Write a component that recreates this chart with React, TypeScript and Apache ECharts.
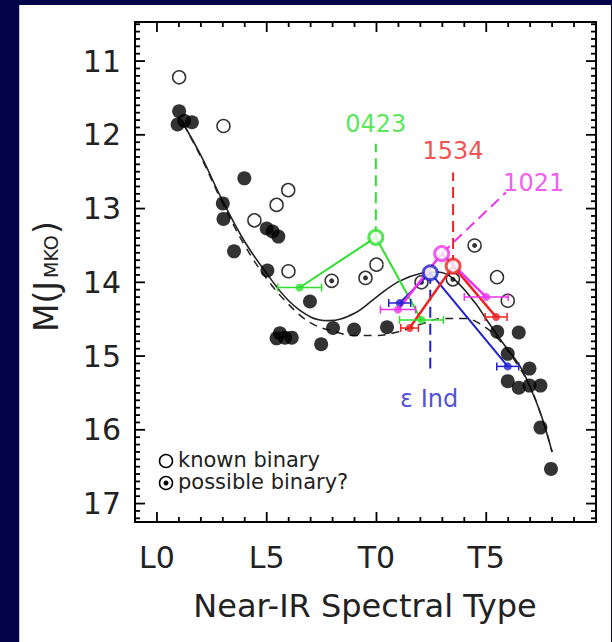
import React, { useEffect, useRef } from "react";
import * as echarts from "echarts";

// ---------- axis ticks ----------
const xMajorTicks = [0, 5, 10, 15];
const xTickLabels = ["L0", "L5", "T0", "T5"];
const xMinorTicks = [1, 2, 3, 4, 6, 7, 8, 9, 11, 12, 13, 14, 16, 17, 18, 19];
const yMajorTicks = [11, 12, 13, 14, 15, 16, 17];
const X_MIN = -1;
const X_MAX = 20;
const Y_MIN = 10.47;
const Y_MAX = 17.25;

// ---------- data (spectral type index: L0=0, T0=10) ----------
const singleDwarfs: number[][] = [
  [1.01, 11.68], [0.94, 11.86], [1.24, 11.81], [1.59, 11.83],
  [3.98, 12.59], [3.0, 12.93], [3.03, 13.14], [3.51, 13.58],
  [5.0, 13.27], [5.27, 13.31], [5.53, 13.38], [5.03, 13.84],
  [6.97, 14.26], [5.45, 14.76], [5.6, 14.69], [5.83, 14.75], [6.14, 14.75],
  [7.48, 14.84], [8.02, 14.62], [8.98, 14.64], [10.48, 14.61],
  [15.5, 14.67], [16.48, 14.68], [15.98, 14.97], [15.98, 15.34],
  [16.48, 15.43], [16.97, 15.17], [16.97, 15.4], [17.47, 15.4],
  [17.47, 15.97], [17.95, 16.53],
];
const knownBinaries: number[][] = [
  [1.01, 11.22], [3.03, 11.88], [5.98, 12.75], [5.45, 12.95], [4.44, 13.16],
  [5.99, 13.85], [10.0, 13.76], [15.49, 13.93], [15.98, 14.25],
];
const possibleBinaries: number[][] = [
  [7.96, 13.98], [9.5, 13.94], [12.05, 14.0], [13.48, 13.96], [14.47, 13.5],
];
const fitSolid: number[][] = [
  [1.2, 11.85], [2.0, 12.28], [3.0, 12.9], [4.0, 13.45], [5.0, 13.88],
  [6.0, 14.25], [7.0, 14.47], [7.8, 14.52], [9.0, 14.42], [10.0, 14.2],
  [11.0, 13.99], [12.0, 13.88], [12.8, 13.86], [13.5, 13.95], [14.5, 14.28],
  [15.0, 14.5], [15.7, 14.8], [16.5, 15.12], [17.0, 15.42], [17.5, 15.8], [18.0, 16.3],
];
const fitDashed: number[][] = [
  [1.2, 11.85], [2.0, 12.3], [3.0, 12.93], [4.0, 13.5], [5.0, 13.95],
  [6.0, 14.3], [7.0, 14.55], [8.0, 14.66], [9.0, 14.72], [10.0, 14.72],
  [11.0, 14.67], [12.0, 14.57], [13.0, 14.49], [14.0, 14.49], [14.7, 14.56],
  [15.5, 14.75], [16.5, 15.15], [17.0, 15.42], [17.5, 15.8], [18.0, 16.3],
];

// binaries: combined point, components [x, y, xErr], pointer line, label
const sys0423Combined = [9.97, 13.39];
const sys0423Components = [[6.5, 14.07, 1.0], [12.05, 14.51, 1.0]];
const sys0423Pointer = [[9.97, 13.39], [9.97, 12.12]];
const sys0423Label = [9.97, 11.85];

const sys1534Combined = [13.49, 13.78];
const sys1534Components = [[11.51, 14.62, 0.4], [15.45, 14.47, 0.5]];
const sys1534Pointer = [[13.49, 13.78], [13.49, 12.51]];
const sys1534Label = [13.49, 12.22];

const sys1021Combined = [12.97, 13.61];
const sys1021Components = [[10.98, 14.37, 0.8], [15.0, 14.2, 1.0]];
const sys1021Pointer = [[12.97, 13.61], [15.9, 12.78]];
const sys1021Label = [17.16, 12.65];

const sysEpsCombined = [12.45, 13.87];
const sysEpsComponents = [[11.06, 14.28, 0.5], [15.98, 15.14, 0.5]];
const sysEpsPointer = [[12.45, 13.87], [12.45, 15.17]];
const sysEpsLabel = [12.4, 15.58];

const FONT = "DejaVu Sans";
const INK = "#222222";

function minorYTicks(): number[] {
  const out: number[] = [];
  for (let i = 105; i <= 172; i++) {
    if (i % 10 !== 0) out.push(i / 10);
  }
  return out;
}

// tick rows: [x, y, side(0 bottom, 1 top, 2 left, 3 right), length]
function tickRows(): number[][] {
  const rows: number[][] = [];
  xMajorTicks.forEach((v) => { rows.push([v, Y_MAX, 0, 10]); rows.push([v, Y_MIN, 1, 10]); });
  xMinorTicks.forEach((v) => { rows.push([v, Y_MAX, 0, 5]); rows.push([v, Y_MIN, 1, 5]); });
  yMajorTicks.forEach((v) => { rows.push([X_MIN, v, 2, 10]); rows.push([X_MAX, v, 3, 10]); });
  minorYTicks().forEach((v) => { rows.push([X_MIN, v, 2, 5]); rows.push([X_MAX, v, 3, 5]); });
  return rows;
}

function makeSystem(name: string, color: string, combined: number[], comps: number[][], pointer: number[][], labelPos: number[], width: number) {
  const compPts = comps.map((c) => [c[0], c[1]]);
  return [
    {
      type: "line",
      name: name + "-pointer",
      data: pointer,
      showSymbol: false,
      symbol: "none",
      lineStyle: { color, width: 2, type: [11, 6] },
      z: 5,
    },
    {
      type: "line",
      name: name + "-link",
      data: [compPts[0], combined, compPts[1]],
      showSymbol: false,
      symbol: "none",
      lineStyle: { color, width },
      z: 6,
    },
    {
      type: "custom",
      name: name + "-err",
      data: comps,
      z: 7,
      renderItem: (_p: any, api: any) => {
        const x = api.value(0);
        const y = api.value(1);
        const e = api.value(2);
        const a = api.coord([x - e, y]);
        const b = api.coord([x + e, y]);
        const h = 4;
        const st = { stroke: color, lineWidth: 1.5 };
        return {
          type: "group",
          children: [
            { type: "line", shape: { x1: a[0], y1: a[1], x2: b[0], y2: b[1] }, style: st },
            { type: "line", shape: { x1: a[0], y1: a[1] - h, x2: a[0], y2: a[1] + h }, style: st },
            { type: "line", shape: { x1: b[0], y1: b[1] - h, x2: b[0], y2: b[1] + h }, style: st },
          ],
        };
      },
    },
    {
      type: "scatter",
      name: name + "-comp",
      data: compPts,
      symbol: "circle",
      symbolSize: 8,
      itemStyle: { color },
      z: 8,
    },
    {
      type: "scatter",
      name: name + "-combined",
      data: [combined],
      symbol: "circle",
      symbolSize: 14,
      itemStyle: { color: "#ffffff", borderColor: color, borderWidth: 3 },
      z: 9,
    },
    {
      type: "scatter",
      name: name + "-label",
      data: [labelPos],
      symbolSize: 1,
      itemStyle: { color: "rgba(0,0,0,0)" },
      label: {
        show: true,
        position: "inside",
        formatter: () => name,
        color,
        fontFamily: FONT,
        fontSize: 24,
      },
      z: 10,
    },
  ];
}

export default function App() {
  const ref = useRef<HTMLDivElement>(null);

  useEffect(() => {
    if (!ref.current) return;
    const chart = echarts.init(ref.current, null, { renderer: "svg" });

    const frameLine = { show: true, onZero: false, lineStyle: { color: "#000", width: 2 } };
    const baseX = { type: "value", min: X_MIN, max: X_MAX, splitLine: { show: false }, axisTick: { show: false } };
    const baseY = { type: "value", min: Y_MIN, max: Y_MAX, inverse: true, splitLine: { show: false }, axisTick: { show: false } };

    const option: any = {
      animation: false,
      backgroundColor: "transparent",
      grid: { left: 135, right: 16, top: 22, bottom: 120, containLabel: false },
      xAxis: [
        {
          ...baseX,
          position: "bottom",
          axisLine: frameLine,
          axisLabel: {
            show: true,
            customValues: xMajorTicks,
            formatter: (v: number) => xTickLabels[xMajorTicks.indexOf(v)] ?? "",
            fontFamily: FONT,
            fontSize: 30,
            color: INK,
            margin: 20,
          },
        },
        { ...baseX, position: "top", axisLine: frameLine, axisLabel: { show: false } },
      ],
      yAxis: [
        {
          ...baseY,
          position: "left",
          axisLine: frameLine,
          axisLabel: {
            show: true,
            customValues: yMajorTicks,
            formatter: (v: number) => String(v),
            fontFamily: FONT,
            fontSize: 30,
            color: INK,
            margin: 14,
          },
        },
        { ...baseY, position: "right", axisLine: frameLine, axisLabel: { show: false } },
      ],
      series: [
        {
          type: "custom",
          name: "frame-ticks",
          data: tickRows(),
          clip: false,
          silent: true,
          z: 20,
          renderItem: (_p: any, api: any) => {
            const p = api.coord([api.value(0), api.value(1)]);
            const side = api.value(2);
            const len = api.value(3);
            let x2 = p[0];
            let y2 = p[1];
            if (side === 0) y2 -= len;
            else if (side === 1) y2 += len;
            else if (side === 2) x2 += len;
            else x2 -= len;
            return { type: "line", shape: { x1: p[0], y1: p[1], x2, y2 }, style: { stroke: "#000", lineWidth: 1.8 } };
          },
        },
        {
          type: "line",
          name: "fit-dashed",
          data: fitDashed,
          smooth: 0.4,
          showSymbol: false,
          symbol: "none",
          lineStyle: { color: INK, width: 1.5, type: [8, 6] },
          z: 2,
        },
        {
          type: "line",
          name: "fit-solid",
          data: fitSolid,
          smooth: 0.4,
          showSymbol: false,
          symbol: "none",
          lineStyle: { color: INK, width: 1.6 },
          z: 2,
        },
        {
          type: "scatter",
          name: "single",
          data: singleDwarfs,
          symbol: "circle",
          symbolSize: 14,
          itemStyle: { color: "#000000" },
          z: 3,
        },
        {
          type: "scatter",
          name: "known binary",
          data: knownBinaries,
          symbol: "circle",
          symbolSize: 13,
          itemStyle: { color: "rgba(255,255,255,0)", borderColor: "#000", borderWidth: 1.5 },
          z: 3,
        },
        {
          type: "scatter",
          name: "possible binary",
          data: possibleBinaries,
          symbol: "circle",
          symbolSize: 13,
          itemStyle: { color: "rgba(255,255,255,0)", borderColor: "#000", borderWidth: 1.5 },
          z: 3,
        },
        {
          type: "scatter",
          name: "possible binary dot",
          data: possibleBinaries,
          symbol: "circle",
          symbolSize: 5,
          itemStyle: { color: "#000" },
          z: 3,
        },
        ...makeSystem("0423", "#2ee02e", sys0423Combined, sys0423Components, sys0423Pointer, sys0423Label, 2),
        ...makeSystem("ε Ind", "#2020d0", sysEpsCombined, sysEpsComponents, sysEpsPointer, sysEpsLabel, 2),
        ...makeSystem("1534", "#ee2222", sys1534Combined, sys1534Components, sys1534Pointer, sys1534Label, 2.5),
        ...makeSystem("1021", "#ee33ee", sys1021Combined, sys1021Components, sys1021Pointer, sys1021Label, 2.5),
      ],
      graphic: {
        elements: [
          {
            type: "group",
            x: 46,
            y: 274,
            rotation: Math.PI / 2,
            children: [
              { type: "text", x: -58, y: 0, style: { text: "M(J", fontFamily: FONT, fontSize: 33, fill: INK, align: "left", verticalAlign: "middle" } },
              { type: "text", x: -4, y: 5, style: { text: "MKO", fontFamily: FONT, fontSize: 19, fill: INK, align: "left", verticalAlign: "middle" } },
              { type: "text", x: 40, y: 0, style: { text: ")", fontFamily: FONT, fontSize: 33, fill: INK, align: "left", verticalAlign: "middle" } },
            ],
          },
          {
            type: "text",
            x: 365,
            y: 606,
            style: { text: "Near-IR Spectral Type", fontFamily: FONT, fontSize: 32, fill: INK, align: "center", verticalAlign: "middle" },
          },
          { type: "circle", shape: { cx: 166, cy: 461, r: 6.5 }, style: { fill: "none", stroke: "#000", lineWidth: 1.5 } },
          { type: "circle", shape: { cx: 166, cy: 483, r: 6.5 }, style: { fill: "none", stroke: "#000", lineWidth: 1.5 } },
          { type: "circle", shape: { cx: 166, cy: 483, r: 2.5 }, style: { fill: "#000" } },
          { type: "text", x: 178, y: 460, style: { text: "known binary", fontFamily: FONT, fontSize: 21, fill: INK, align: "left", verticalAlign: "middle" } },
          { type: "text", x: 178, y: 482, style: { text: "possible binary?", fontFamily: FONT, fontSize: 21, fill: INK, align: "left", verticalAlign: "middle" } },
        ],
      },
    };

    chart.setOption(option);
    return () => chart.dispose();
  }, []);

  return (
    <div style={{ position: "absolute", left: 0, top: 0, width: 612, height: 642, background: "#03034a", overflow: "hidden" }}>
      <div style={{ position: "absolute", left: 19, top: 5, width: 591, height: 637, background: "#ffffff", borderLeft: "1px solid #c8c8d0" }} />
      <div ref={ref} style={{ position: "absolute", left: 0, top: 0, width: 612, height: 642 }} />
    </div>
  );
}
